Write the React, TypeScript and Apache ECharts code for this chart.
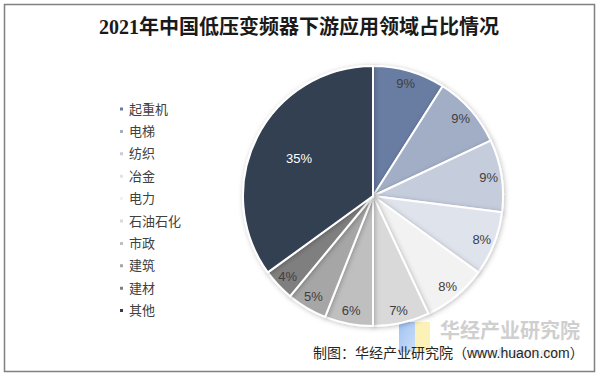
import React, { useEffect, useRef } from "react";
import * as echarts from "echarts";

const titleText = "2021年中国低压变频器下游应用领域占比情况";
const sourceText = "制图：华经产业研究院（www.huaon.com）";
const watermarkText = "华经产业研究院";
const watermarkUrl = "www.huaon.com";

const categories = ["起重机", "电梯", "纺织", "冶金", "电力", "石油石化", "市政", "建筑", "建材", "其他"];
const shares = [9, 9, 9, 8, 8, 7, 6, 5, 4, 35];
const colors = ["#697ca2", "#a2aec6", "#c5ccdc", "#dfe3ec", "#f2f2f2", "#d9d9d9", "#bfbfbf", "#a6a6a6", "#7f7f7f", "#333f51"];
const bigSlice = "其他";

const CJK = "'Liberation Sans', 'Noto Sans CJK SC', sans-serif";

export default function App() {
  const ref = useRef<HTMLDivElement>(null);
  useEffect(() => {
    if (!ref.current) return;
    const chart = echarts.init(ref.current, undefined, { renderer: "svg" });
    const center = [373, 196];
    const labelSeries = (radius: number[], showFor: (n: string) => boolean) => ({
      type: "pie",
      center,
      radius,
      startAngle: 90,
      clockwise: true,
      silent: true,
      avoidLabelOverlap: false,
      emphasis: { disabled: true },
      itemStyle: { color: "rgba(0,0,0,0)", borderWidth: 0 },
      labelLine: { show: false },
      data: categories.map((name, i) => ({
        name,
        value: shares[i],
        itemStyle: { color: "rgba(0,0,0,0)" },
        label: {
          show: showFor(name),
          position: "inside",
          formatter: "{c}%",
          fontSize: 13,
          fontFamily: CJK,
          color: name === bigSlice ? "#ffffff" : "#404040",
        },
      })),
    });
    chart.setOption({
      animation: false,
      backgroundColor: "#ffffff",
      title: {
        text: titleText,
        left: "center",
        top: 12,
        textStyle: {
          fontSize: 20,
          fontWeight: "bold",
          color: "#1a1a1a",
          fontFamily: "'Liberation Serif', 'Noto Sans CJK SC', serif",
        },
      },
      legend: {
        orient: "vertical",
        left: 113,
        top: 97,
        icon: "rect",
        itemWidth: 5,
        itemHeight: 5,
        itemGap: 8.4,
        textStyle: { fontSize: 13, color: "#404040", fontFamily: CJK, lineHeight: 14 },
        data: categories.map((name, i) => ({ name, itemStyle: { color: colors[i] } })),
      },
      series: [
        {
          type: "pie",
          center,
          radius: [0, 130],
          startAngle: 90,
          clockwise: true,
          silent: true,
          emphasis: { disabled: true },
          label: { show: false },
          labelLine: { show: false },
          itemStyle: {
            borderColor: "#ffffff",
            borderWidth: 2,
            shadowBlur: 5,
            shadowColor: "rgba(0,0,0,0.25)",
            shadowOffsetX: 1,
            shadowOffsetY: 1,
          },
          data: categories.map((name, i) => ({ name, value: shares[i], itemStyle: { color: colors[i] } })),
        },
        labelSeries([96, 132], (n) => n !== bigSlice),
        labelSeries([30, 130], (n) => n === bigSlice),
      ],
      graphic: [
        {
          type: "rect",
          shape: { x: 4.5, y: 4.5, width: 590, height: 367 },
          style: { fill: "none", stroke: "#808080", lineWidth: 1.5 },
          z: 10,
        },
        {
          type: "rect",
          shape: { x: 399, y: 322, width: 16, height: 30 },
          style: {
            fill: new echarts.graphic.LinearGradient(0, 0, 1, 1, [
              { offset: 0, color: "#8fb8f0" },
              { offset: 1, color: "#c4daf6" },
            ]),
            opacity: 0.85,
          },
          z: 1,
        },
        {
          type: "rect",
          shape: { x: 415, y: 322, width: 15, height: 30 },
          style: { fill: "#fbeeaa", opacity: 0.85 },
          z: 1,
        },
        {
          type: "text",
          x: 440,
          y: 319,
          style: {
            text: watermarkText,
            fontSize: 20,
            fontWeight: "bold",
            fill: "#cfcfcf",
            fontFamily: "'Noto Sans CJK SC', sans-serif",
          },
          z: 1,
        },
        {
          type: "text",
          x: 470,
          y: 346,
          style: {
            text: watermarkUrl,
            fontSize: 11,
            fontWeight: "bold",
            fill: "#e4e4e4",
            fontFamily: "'Liberation Sans', sans-serif",
          },
          z: 1,
        },
        {
          type: "text",
          x: 313,
          y: 346,
          style: {
            text: sourceText,
            fontSize: 14,
            fill: "#262626",
            fontFamily: CJK,
          },
          z: 5,
        },
      ],
    });
    return () => chart.dispose();
  }, []);
  return (
    <div
      ref={ref}
      style={{ position: "fixed", left: 0, top: 0, width: 598, height: 377 }}
    />
  );
}
